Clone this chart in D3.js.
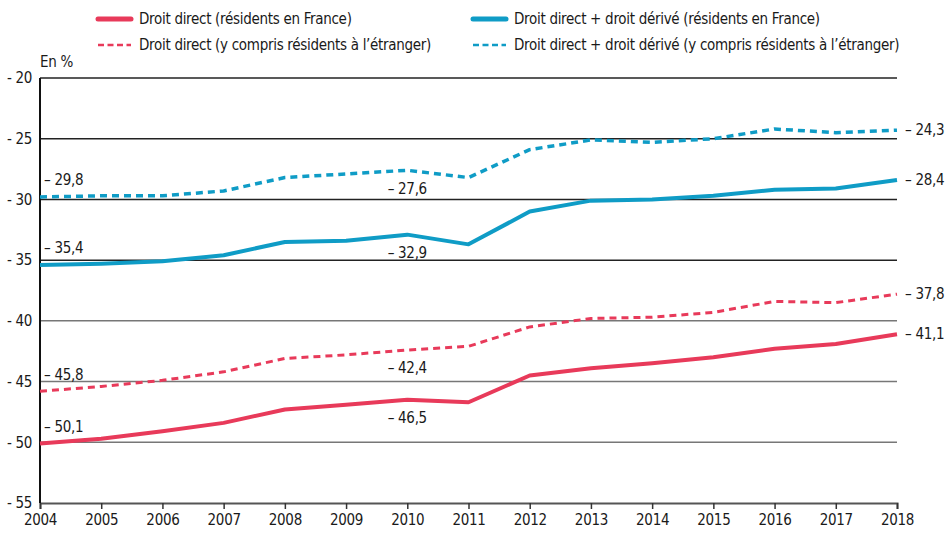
<!DOCTYPE html>
<html>
<head>
<meta charset="utf-8">
<script src="https://cdn.jsdelivr.net/npm/d3@7"></script>
<style>
  body { margin: 0; background: #fff; }
  svg text { font-family: "DejaVu Sans Condensed", "Liberation Sans Narrow", sans-serif; fill: #1a1a1a; letter-spacing: -0.3px; }
</style>
</head>
<body>
<svg id="chart" width="951" height="534"></svg>
<script>
// years on the x axis
const years = [2004, 2005, 2006, 2007, 2008, 2009, 2010, 2011, 2012, 2013, 2014, 2015, 2016, 2017, 2018];

// series (en %)
const directFrance = [-50.1, -49.7, -49.1, -48.4, -47.3, -46.9, -46.5, -46.7, -44.5, -43.9, -43.5, -43.0, -42.3, -41.9, -41.1];
const directAll = [-45.8, -45.4, -44.9, -44.2, -43.1, -42.8, -42.4, -42.1, -40.5, -39.8, -39.7, -39.3, -38.4, -38.5, -37.8];
const derivFrance = [-35.4, -35.3, -35.1, -34.6, -33.5, -33.4, -32.9, -33.7, -31.0, -30.1, -30.0, -29.7, -29.2, -29.1, -28.4];
const derivAll = [-29.8, -29.7, -29.7, -29.3, -28.2, -27.9, -27.6, -28.2, -25.9, -25.1, -25.3, -25.0, -24.2, -24.5, -24.3];

const yTicks = [-20, -25, -30, -35, -40, -45, -50, -55];

const seriesNames = [
  "Droit direct (résidents en France)",
  "Droit direct (y compris résidents à l’étranger)",
  "Droit direct + droit dérivé (résidents en France)",
  "Droit direct + droit dérivé (y compris résidents à l’étranger)"
];

const red = "#e83a5a", blue = "#0f9cc6";

const series = [
  {name: seriesNames[0], values: directFrance, color: red, dash: null, width: 4},
  {name: seriesNames[1], values: directAll, color: red, dash: "7,5", width: 3},
  {name: seriesNames[2], values: derivFrance, color: blue, dash: null, width: 4},
  {name: seriesNames[3], values: derivAll, color: blue, dash: "7,5", width: 3.5}
];

// labelled points: index of year where the value is written
const labelIdx = [0, 6, 14];

const margin = {top: 78, right: 54, bottom: 31, left: 40};
const W = 951, H = 534;

const svg = d3.select("#chart");

const x = d3.scaleLinear()
  .domain([2004, 2018])
  .range([margin.left, W - margin.right]);

const y = d3.scaleLinear()
  .domain([-20, -55])
  .range([margin.top, H - margin.bottom]);

const fmt = v => "\u2013 " + Math.abs(v).toFixed(1).replace(".", ",");

// gridlines
svg.append("g")
  .selectAll("line")
  .data(yTicks.slice(0, -1))
  .join("line")
    .attr("x1", x(2004))
    .attr("x2", x(2018))
    .attr("y1", d => y(d))
    .attr("y2", d => y(d))
    .attr("stroke", d => d >= -35 ? "#222" : "#777")
    .attr("stroke-width", 1.5);

// y tick labels
svg.append("g")
  .selectAll("text")
  .data(yTicks)
  .join("text")
    .attr("x", 32)
    .attr("y", d => y(d))
    .attr("dy", "0.35em")
    .attr("text-anchor", "end")
    .style("font-size", "15px")
    .text(d => "- " + Math.abs(d));

svg.append("text")
  .attr("x", 40)
  .attr("y", 67)
  .style("font-size", "15px")
  .text("En %");

// x axis
const xAxis = d3.axisBottom(x)
  .tickValues(years)
  .tickFormat(d3.format("d"))
  .tickSize(6)
  .tickPadding(5);

const gx = svg.append("g")
  .attr("transform", `translate(0,${y(-55)})`)
  .call(xAxis);
gx.select(".domain").attr("stroke", "#555").attr("stroke-width", 2);
gx.selectAll(".tick line").attr("stroke", "#333").attr("stroke-width", 1.5);
gx.selectAll(".tick text")
  .style("font-size", "15px")
  .style("font-family", "'DejaVu Sans Condensed', sans-serif")
  .attr("fill", "#1a1a1a");

// y axis line
svg.append("line")
  .attr("x1", x(2004)).attr("x2", x(2004))
  .attr("y1", y(-20)).attr("y2", y(-55))
  .attr("stroke", "#111")
  .attr("stroke-width", 2);

// lines
const line = d3.line()
  .x((d, i) => x(years[i]))
  .y(d => y(d));

svg.append("g")
  .selectAll("path")
  .data(series)
  .join("path")
    .attr("d", d => line(d.values))
    .attr("fill", "none")
    .attr("stroke", d => d.color)
    .attr("stroke-width", d => d.width)
    .attr("stroke-dasharray", d => d.dash)
    .attr("stroke-linejoin", "round");

// value labels
const labels = [];
series.forEach(s => {
  labelIdx.forEach(i => labels.push({v: s.values[i], i: i}));
});

svg.append("g")
  .selectAll("text")
  .data(labels)
  .join("text")
    .attr("x", d => d.i === 0 ? x(years[0]) + 4 : d.i === 14 ? x(years[14]) + 8 : x(years[d.i]))
    .attr("y", d => d.i === 0 ? y(d.v) - 17 : d.i === 14 ? y(d.v) : y(d.v) + 18)
    .attr("dy", "0.35em")
    .attr("text-anchor", d => d.i === 6 ? "middle" : "start")
    .style("font-size", "15px")
    .text(d => fmt(d.v));

// legend
const legendPos = [
  {lx: 98, ty: 19}, {lx: 98, ty: 45}, {lx: 473, ty: 19}, {lx: 473, ty: 45}
];

const legend = svg.append("g")
  .selectAll("g")
  .data(series)
  .join("g")
    .attr("transform", (d, i) => `translate(${legendPos[i].lx},${legendPos[i].ty})`);

legend.append("line")
  .attr("x1", 0).attr("x2", 33)
  .attr("stroke", d => d.color)
  .attr("stroke-width", d => d.dash ? 2.5 : 5)
  .attr("stroke-linecap", d => d.dash ? "butt" : "round")
  .attr("stroke-dasharray", d => d.dash ? "6,3.5" : null);

legend.append("text")
  .attr("x", 41)
  .attr("dy", "0.35em")
  .style("font-size", "15px")
  .text(d => d.name);
</script>
</body>
</html>
